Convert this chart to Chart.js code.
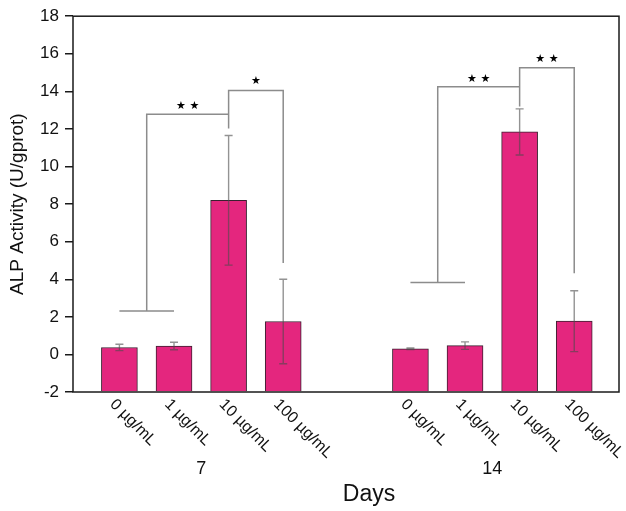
<!DOCTYPE html>
<html>
<head>
<meta charset="utf-8">
<script src="https://cdn.jsdelivr.net/npm/chart.js@4.4.1/dist/chart.umd.min.js"></script>
<style>
  html, body { margin: 0; padding: 0; background: #fff; }
  #wrap { width: 626px; height: 511px; }
</style>
</head>
<body>
<div id="wrap"><canvas id="alp"></canvas></div>
<script>
// Datos
var days = ["7", "14"];
var concentrations = ["0 µg/mL", "1 µg/mL", "10 µg/mL", "100 µg/mL"];
var day7Mean = [0.37, 0.45, 8.2, 1.75];
var day7Err = [0.17, 0.2, 3.45, 2.25];
var day14Mean = [0.3, 0.47, 11.84, 1.77];
var day14Err = [0.04, 0.2, 1.23, 1.62];
// posiciones en el eje x (hueco entre días)
var day7Slots = [0.85, 1.85, 2.85, 3.85];
var day14Slots = [6.18, 7.18, 8.18, 9.18];

// Corchetes de significancia (valores del eje y)
var bracketBase = [2.31, 3.83];     // línea sobre 0 y 1 µg/mL
var bracketLow = [12.78, 14.25];    // control vs 10 µg/mL
var bracketLowEnd = [12.03, 13.2];
var bracketHigh = [14.04, 15.26];   // 10 vs 100 µg/mL
var bracketHighEnd = [4.87, 4.32];
var starsLow = ["★ ★", "★ ★"];
var starsHigh = ["★", "★ ★"];

var pink = "#e4267e";
var font = "'Liberation Sans', Arial, sans-serif";

function toPoints(slots, values) {
  return slots.map(function (x, i) { return { x: x, y: values[i] }; });
}

var groups = [
  { slots: day7Slots, mean: day7Mean, err: day7Err },
  { slots: day14Slots, mean: day14Mean, err: day14Err },
];

// Barras de error, corchetes, borde y etiquetas
var extras = {
  id: "extras",
  afterDatasetsDraw: function (chart) {
    var c = chart.ctx;
    var xs = chart.scales.x;
    var ys = chart.scales.y;
    var area = chart.chartArea;
    c.save();

    // barras de error
    c.strokeStyle = "rgba(75,75,75,0.6)";
    c.lineWidth = 1.4;
    groups.forEach(function (g) {
      g.slots.forEach(function (s, i) {
        var px = xs.getPixelForValue(s);
        var hi = ys.getPixelForValue(g.mean[i] + g.err[i]);
        var lo = ys.getPixelForValue(g.mean[i] - g.err[i]);
        c.beginPath();
        c.moveTo(px, hi); c.lineTo(px, lo);
        c.moveTo(px - 4, hi); c.lineTo(px + 4, hi);
        c.moveTo(px - 4, lo); c.lineTo(px + 4, lo);
        c.stroke();
      });
    });

    // corchetes
    c.strokeStyle = "#8c8c8c";
    c.lineWidth = 1.5;
    c.fillStyle = "#000";
    c.font = "11px 'DejaVu Sans'";
    c.textAlign = "center";
    c.textBaseline = "middle";
    groups.forEach(function (g, d) {
      var p0 = xs.getPixelForValue(g.slots[0]);
      var p1 = xs.getPixelForValue(g.slots[1]);
      var p2 = xs.getPixelForValue(g.slots[2]);
      var p3 = xs.getPixelForValue(g.slots[3]);
      var mid = (p0 + p1) / 2;
      var yBase = ys.getPixelForValue(bracketBase[d]);
      var yLow = ys.getPixelForValue(bracketLow[d]);
      var yLowEnd = ys.getPixelForValue(bracketLowEnd[d]);
      var yHigh = ys.getPixelForValue(bracketHigh[d]);
      var yHighEnd = ys.getPixelForValue(bracketHighEnd[d]);
      c.beginPath();
      c.moveTo(p0, yBase); c.lineTo(p1, yBase);
      c.moveTo(mid, yBase); c.lineTo(mid, yLow); c.lineTo(p2, yLow); c.lineTo(p2, yLowEnd);
      c.moveTo(p2, yLow); c.lineTo(p2, yHigh); c.lineTo(p3, yHigh); c.lineTo(p3, yHighEnd);
      c.stroke();
      c.fillText(starsLow[d], (mid + p2) / 2, yLow - 8);
      c.fillText(starsHigh[d], (p2 + p3) / 2, yHigh - 9);
    });

    // marco
    c.strokeStyle = "#1a1a1a";
    c.lineWidth = 1.5;
    c.strokeRect(area.left, area.top, area.right - area.left, area.bottom - area.top);

    // etiquetas de concentración giradas
    c.fillStyle = "#111";
    c.font = "16px " + font;
    c.textAlign = "left";
    c.textBaseline = "middle";
    groups.forEach(function (g) {
      g.slots.forEach(function (s, i) {
        c.save();
        c.translate(xs.getPixelForValue(s) - 7, area.bottom + 10);
        c.rotate(Math.PI / 4);
        c.fillText(concentrations[i], 0, 0);
        c.restore();
      });
    });

    // días
    c.font = "18px " + font;
    c.textAlign = "center";
    groups.forEach(function (g, d) {
      var cx = (xs.getPixelForValue(g.slots[0]) + xs.getPixelForValue(g.slots[3])) / 2;
      c.fillText(days[d], cx, 469);
    });
    c.font = "23px " + font;
    c.fillText("Days", 369, 495);
    c.restore();
  },
};

var ctx = document.getElementById("alp").getContext("2d");
var barStyle = {
  backgroundColor: pink,
  borderColor: "#3a2030",
  borderWidth: 1,
  barThickness: 36,
  grouped: false,
  base: -2,
};

var chart = new Chart(ctx, {
  type: "bar",
  data: {
    datasets: [
      Object.assign({ label: days[0], data: toPoints(day7Slots, day7Mean) }, barStyle),
      Object.assign({ label: days[1], data: toPoints(day14Slots, day14Mean) }, barStyle),
    ],
  },
  options: {
    responsive: true,
    maintainAspectRatio: false,
    animation: false,
    layout: { padding: { top: 11, right: 7, left: 0, bottom: 0 } },
    plugins: { legend: { display: false }, tooltip: { enabled: false } },
    scales: {
      x: {
        type: "linear",
        min: 0,
        max: 10,
        offset: false,
        grid: { display: false },
        border: { display: false },
        ticks: { display: false },
        afterFit: function (s) { s.height = 119; },
      },
      y: {
        min: -2,
        max: 18,
        ticks: { stepSize: 2, color: "#111", padding: 6, font: { family: font, size: 17 } },
        grid: { drawOnChartArea: false, tickLength: 8, color: "#1a1a1a", lineWidth: 1.5 },
        border: { display: false },
        title: {
          display: true,
          text: "ALP Activity (U/gprot)",
          color: "#111",
          font: { family: font, size: 19 },
          padding: { top: 6, bottom: 0 },
        },
        afterFit: function (s) { s.width = 73; },
      },
    },
  },
  plugins: [extras],
});
</script>
</body>
</html>
